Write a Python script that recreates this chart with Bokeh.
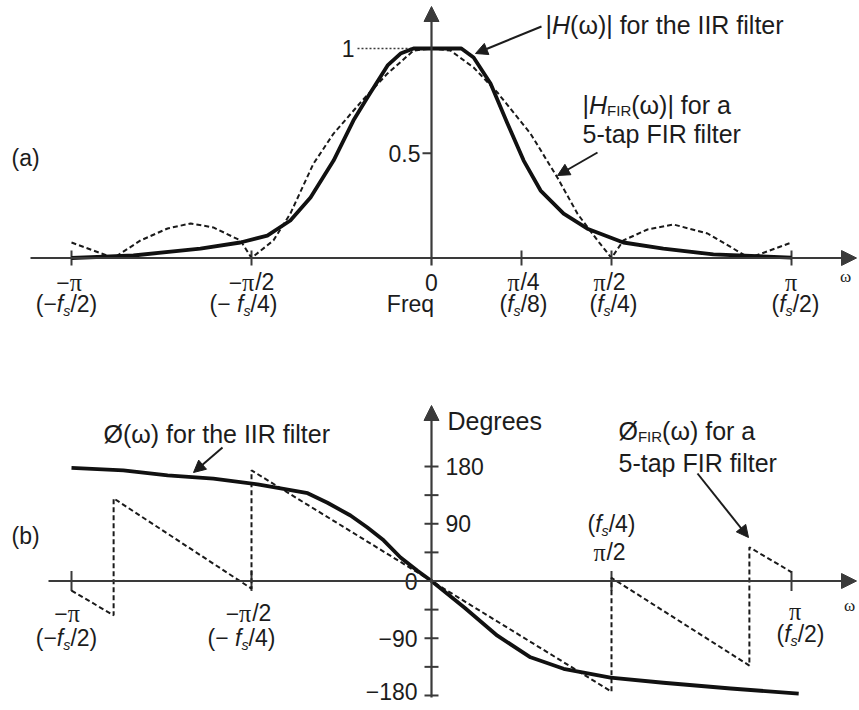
import numpy as np
from bokeh.plotting import figure
from bokeh.models import Range1d, Arrow, NormalHead
from bokeh.core.properties import value
from bokeh.embed import file_html
from bokeh.resources import INLINE

# ---------------- data (w = omega / pi) ----------------
# (a) magnitude, IIR filter (solid)
w_iir_mag = [-1.0, -0.828, -0.642, -0.531, -0.456, -0.392, -0.336, -0.272, -0.217, -0.178,
             -0.122, -0.086, -0.05, 0.0, 0.083, 0.117, 0.164, 0.211, 0.256, 0.303, 0.367,
             0.433, 0.533, 0.644, 0.783, 1.0]
iir_mag = [0.0, 0.012, 0.045, 0.074, 0.107, 0.179, 0.289, 0.465, 0.656, 0.766,
           0.919, 0.976, 1.0, 1.0, 1.0, 0.957, 0.833, 0.642, 0.465, 0.322, 0.212,
           0.14, 0.074, 0.045, 0.017, 0.002]
# (a) magnitude, 5-tap FIR filter (dashed)
w_fir_mag = [-1.0, -0.883, -0.808, -0.733, -0.669, -0.606, -0.531, -0.5, -0.439, -0.392,
             -0.328, -0.272, -0.192, -0.122, -0.05, 0.0, 0.053, 0.117, 0.183, 0.275, 0.35,
             0.406, 0.461, 0.5, 0.533, 0.6, 0.672, 0.767, 0.883, 1.0]
fir_mag = [0.074, 0.0, 0.084, 0.141, 0.165, 0.146, 0.084, 0.0, 0.084, 0.212,
           0.45, 0.594, 0.752, 0.881, 0.99, 1.0, 0.99, 0.909, 0.79, 0.594, 0.383,
           0.21, 0.084, 0.0, 0.084, 0.136, 0.16, 0.117, 0.0, 0.074]
# (b) phase in degrees, IIR filter (solid)
w_iir_ph = [-1.0, -0.856, -0.733, -0.606, -0.483, -0.411, -0.344, -0.289, -0.225, -0.178,
            -0.133, -0.086, -0.039, 0.0, 0.092, 0.183, 0.275, 0.367, 0.497, 0.644, 0.831, 1.02]
iir_ph = [178, 174, 166, 161, 152, 145, 138, 123, 103, 84,
          64, 37, 16, 0, -42, -86, -120, -138, -152, -160, -169, -177]
# (b) phase in degrees, 5-tap FIR filter (dashed, with jumps)
w_fir_ph = [-1.0, -0.883, -0.883, -0.5, -0.5, 0.0, 0.5, 0.5, 0.883, 0.883, 1.0]
fir_ph = [-15, -54, 130, -12, 174, 0, -174, 5, -133, 53, 14]

# tick values and labels
mag_ticks_w = [-1.0, -0.5, 0.0, 0.25, 0.5, 1.0]
mag_top = ["\u2212\u03c0", "\u2212\u03c0/2", "0", "\u03c0/4", "\u03c0/2", "\u03c0"]
mag_bottom = ["(\u2212fs/2)", "(\u2212 fs/4)", "Freq", "(fs/8)", "(fs/4)", "(fs/2)"]
mag_yticks = [0.5, 1.0]
mag_ylabels = ["0.5", "1"]
ph_ticks_w = [-1.0, -0.5, 0.5, 1.0]
ph_line1 = ["\u2212\u03c0", "\u2212\u03c0/2", "(fs/4)", "\u03c0"]
ph_line2 = ["(\u2212fs/2)", "(\u2212 fs/4)", "\u03c0/2", "(fs/2)"]
deg_ticks = [-180, -135, -90, -45, 45, 90, 135, 180]
deg_label_vals = [180, 90, 0, -90, -180]
deg_labels = ["180", "90", "0", "\u221290", "\u2212180"]

# ---------------- layout helpers (reference pixels -> data) ----------------
W_PX, H_PX = 857, 706
X0, SX = 431.0, 360.0          # pixel x of w=0, px per unit of w
V0, SV = 257.5, 209.5          # pixel y of |H|=0, px per unit
D0, SD = 580.5, 0.636          # pixel y of 0 deg, px per degree

def W(px): return (px - X0) / SX
def V(py): return (V0 - py) / SV
def D(py): return (D0 - py) / SD

FONT = "Liberation Sans"
SERIF = "Liberation Serif"
TXT = "#1c1c1c"
AX = "#3a3a3a"
FS = 23      # tick labels
FA = 25      # annotations

p = figure(width=W_PX, height=H_PX,
           x_range=Range1d(W(0), W(W_PX)), y_range=Range1d(V(H_PX), V(0)),
           output_backend="svg", toolbar_location=None,
           x_axis_location=None, y_axis_location=None, min_border=0)
p.extra_y_ranges = {"deg": Range1d(D(H_PX), D(0))}
p.outline_line_color = None
p.background_fill_color = "white"
p.border_fill_color = "white"
p.grid.visible = False
p.xgrid.grid_line_color = None
p.ygrid.grid_line_color = None

WID = {' ': 278, '(': 333, ')': 333, '-': 333, '/': 278, '.': 278, '|': 260,
       'D': 722, 'F': 611, 'H': 722, 'I': 278, 'R': 722, '\u00d8': 778,
       'a': 556, 'e': 556, 'f': 278, 'g': 556, 'h': 556, 'i': 222, 'l': 222,
       'o': 556, 'p': 556, 'q': 556, 'r': 333, 's': 500, 't': 278,
       '\u03c9': 780, '\u03c0': 540, '\u2212': 584}

def tw(t, size):
    return sum(WID.get(c, 556) for c in t) / 1000.0 * size

def rich(x, y, pieces, align="left", yname="default", dx=0, dy=0, size=FS):
    # pieces: (text, scale, italic, y offset px, font)
    widths = [tw(pc[0], size * pc[1]) for pc in pieces]
    total = sum(widths)
    cur = {"left": 0, "center": -total / 2, "right": -total}[align] + dx
    for pc, wd in zip(pieces, widths):
        t, sc, it, off = pc[:4]
        fnt = pc[4] if len(pc) > 4 else FONT
        p.text(x=[x], y=[y], text=[t], x_offset=cur, y_offset=dy + off,
               text_align="left", text_baseline="middle",
               text_font=value(fnt), text_font_size=f"{size * sc:.1f}px",
               text_font_style="italic" if it else "normal",
               text_color=TXT, y_range_name=yname)
        cur += wd

def fs_pieces(label):
    parts = []
    buf = ""
    i = 0
    while i < len(label):
        if label.startswith("fs", i):
            if buf:
                parts.append((buf, 1.0, False, 0))
                buf = ""
            parts.append(("f", 1.0, True, 0))
            parts.append(("s", 0.62, True, 7))
            i += 2
        elif label[i] == "\u03c0":
            if buf:
                parts.append((buf, 1.0, False, 0))
                buf = ""
            parts.append(("\u03c0", 1.05, False, 0, SERIF))
            i += 1
        else:
            buf += label[i]
            i += 1
    if buf:
        parts.append((buf, 1.0, False, 0))
    return parts

def plain(x, y, t, align="left", yname="default", dx=0, dy=0, size=FS, font=FONT):
    p.text(x=[x], y=[y], text=[t], x_offset=dx, y_offset=dy, text_align=align,
           text_baseline="middle", text_font=value(font), text_font_size=f"{size}px",
           text_color=TXT, y_range_name=yname)

def axis_arrow(x0, y0, x1, y1, yname="default"):
    p.add_layout(Arrow(end=NormalHead(size=15, fill_color=AX, line_color=AX, line_width=1),
                       x_start=x0, y_start=y0, x_end=x1, y_end=y1,
                       line_color=AX, line_width=2.2, y_range_name=yname))

def note_arrow(x0, y0, x1, y1, yname="default"):
    p.add_layout(Arrow(end=NormalHead(size=12, fill_color=TXT, line_color=TXT, line_width=1),
                       x_start=x0, y_start=y0, x_end=x1, y_end=y1,
                       line_color=TXT, line_width=2, y_range_name=yname))

# ================= panel (a) =================
axis_arrow(W(30), 0, W(856), 0)
axis_arrow(0, V(265), 0, V(6))
p.scatter([t for t in mag_ticks_w if t != 0], [0] * (len(mag_ticks_w) - 1), marker="dash",
          size=15, angle=np.pi / 2, line_color=AX, line_width=2)
p.segment(x0=[W(422)], y0=[mag_yticks[0]], x1=[0], y1=[mag_yticks[0]], line_color=AX, line_width=2)
p.line([W(357), 0], [mag_yticks[1]] * 2, line_color=AX, line_width=1.5, line_dash="2 2")
plain(0, mag_yticks[0], mag_ylabels[0], align="right", dx=-11)
plain(W(357), mag_yticks[1], mag_ylabels[1], align="right", dx=-3)

p.line(w_fir_mag, fir_mag, line_color="#1a1a1a", line_width=2, line_dash="5 3")
p.line(w_iir_mag, iir_mag, line_color="#111", line_width=3.8, line_join="round")

top_dx = [-2, 0, 0, 2, -2, 0]
bot_dx = [-5, -8, -21, 2, 2, 4]
for w, t1, t2, a, b in zip(mag_ticks_w, mag_top, mag_bottom, top_dx, bot_dx):
    rich(w, 0, fs_pieces(t1), align="center", dx=a, dy=24)
    rich(w, 0, fs_pieces(t2), align="center", dx=b, dy=46)
plain(W(845), V(276), "\u03c9", align="center", size=17, font=SERIF)
plain(W(11), V(157), "(a)")

rich(W(545), V(24), [("|", 1, False, 0), ("H", 1, True, 0), ("(\u03c9)| for the IIR filter", 1, False, 0)],
     size=FA)
note_arrow(W(541), V(26), W(475), V(53))
rich(W(582), V(104), [("|", 1, False, 0), ("H", 1, True, 0), ("FIR", 0.6, False, 6),
                      ("(\u03c9)| for a", 1, False, 0)], size=FA)
plain(W(582), V(133), "5-tap FIR filter", size=FA)
note_arrow(W(597), V(152), W(557), V(175))

# ================= panel (b) =================
axis_arrow(W(48), 0, W(856), 0, yname="deg")
axis_arrow(0, D(697), 0, D(405), yname="deg")
p.scatter([0] * len(deg_ticks), deg_ticks, marker="dash", size=14, line_color=AX,
          line_width=2, y_range_name="deg")
p.scatter(ph_ticks_w, [0] * len(ph_ticks_w), marker="dash", size=20, angle=np.pi / 2,
          line_color=AX, line_width=2, y_range_name="deg")
for v, t in zip(deg_label_vals, deg_labels):
    if v > 0:
        plain(0, v, t, align="left", dx=14, yname="deg")
    else:
        plain(0, v, t, align="right", dx=-14, dy=(-4 if v == -180 else 0), yname="deg")
plain(W(447), D(420), "Degrees", yname="deg", size=FA)

p.line(w_fir_ph, fir_ph, line_color="#1a1a1a", line_width=2, line_dash="5 3", y_range_name="deg")
p.line(w_iir_ph, iir_ph, line_color="#111", line_width=3.8, line_join="round", y_range_name="deg")

l1_dy = [32, 32, -57, 30]
l2_dy = [57, 57, -29, 53]
l1_dx = [-4, -3, 0, 4]
l2_dx = [-5, -10, -2, 9]
for w, t1, t2, a1, a2, b1, b2 in zip(ph_ticks_w, ph_line1, ph_line2, l1_dx, l2_dx, l1_dy, l2_dy):
    rich(w, 0, fs_pieces(t1), align="center", dx=a1, dy=b1, yname="deg")
    rich(w, 0, fs_pieces(t2), align="center", dx=a2, dy=b2, yname="deg")
plain(W(849), D(605), "\u03c9", align="center", size=17, font=SERIF, yname="deg")
plain(W(11), D(535), "(b)", yname="deg")

plain(W(103), D(433), "\u00d8(\u03c9) for the IIR filter", yname="deg", size=FA)
note_arrow(W(222), D(447), W(193), D(472), yname="deg")
rich(W(618), D(430), [("\u00d8", 1, False, 0), ("FIR", 0.6, False, 6), ("(\u03c9) for a", 1, False, 0)],
     yname="deg", size=FA)
plain(W(618), D(462), "5-tap FIR filter", yname="deg", size=FA)
note_arrow(W(697), D(473), W(748), D(537), yname="deg")

open("out.html", "w").write(file_html(p, INLINE))
